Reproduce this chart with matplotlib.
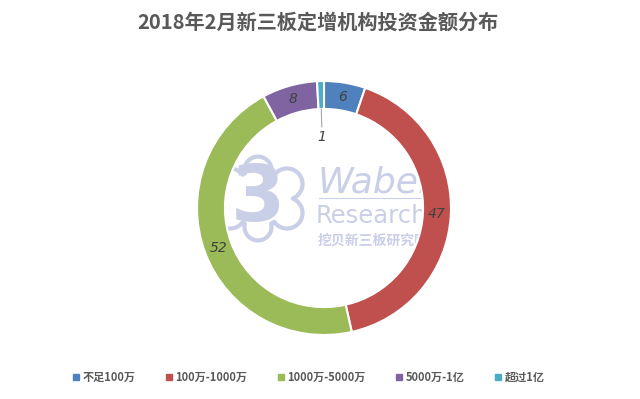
import numpy as np
import matplotlib
matplotlib.use('Agg')
import matplotlib.pyplot as plt
from matplotlib.lines import Line2D

plt.rcParams['font.family'] = ['Noto Sans CJK SC', 'DejaVu Sans']

# podaci
categories = ['不足100万', '100万-1000万', '1000万-5000万', '5000万-1亿', '超过1亿']
values = [6, 47, 52, 8, 1]
colors = ['#4F81BD', '#C0504D', '#9BBB59', '#8064A2', '#4BACC6']
title = '2018年2月新三板定增机构投资金额分布'

fig = plt.figure(figsize=(6.4, 3.99), dpi=100)
fig.patch.set_facecolor('white')

# osa za krofnu, centar oko (324, 208) px
half = 135
ax = fig.add_axes([(324 - half) / 640, (399 - 208 - half) / 399, 2 * half / 640, 2 * half / 399])
R = 127 / half
ring = 0.22 * R

wedges, _ = ax.pie(values, colors=colors, startangle=90, counterclock=False,
                   radius=R, wedgeprops=dict(width=ring, edgecolor='white', linewidth=1.5))
ax.set_xlim(-1, 1)
ax.set_ylim(-1, 1)
ax.set_aspect('equal')
ax.axis('off')

# vodeni žig - logo (obris oblaka) + tekst
wm = '#c9cfe6'
lobes = [(-0.489, 0.281, 0.10), (-0.489, -0.14, 0.10),
         (-0.696, 0.178, 0.115), (-0.696, -0.037, 0.115),
         (-0.274, 0.178, 0.115), (-0.274, -0.037, 0.115),
         (-0.489, 0.07, 0.21)]
gx, gy = np.meshgrid(np.linspace(-0.9, -0.1, 400), np.linspace(-0.35, 0.5, 400))
field = np.max([r - np.hypot(gx - x, gy - y) for x, y, r in lobes], axis=0)
ax.contour(gx, gy, field, levels=[0], colors=wm, linewidths=3, zorder=0)
ax.text(-0.49, 0.07, '3', fontsize=56, color=wm, fontweight='bold', family='DejaVu Sans',
        ha='center', va='center', zorder=0)

ax.text(-0.05, 0.19, 'Wabei', fontsize=26, style='italic', color=wm, family='DejaVu Sans',
        ha='left', va='center', zorder=0)
ax.text(-0.06, -0.06, 'Research', fontsize=17.5, color=wm, family='DejaVu Sans',
        ha='left', va='center', zorder=0)
ax.plot([-0.04, 0.86], [0.075, 0.075], color=wm, lw=0.8, zorder=0)
ax.text(-0.05, -0.24, '挖贝新三板研究院', fontsize=10, color=wm, fontweight='bold',
        ha='left', va='center', zorder=0)

# oznake vrednosti
total = sum(values)
cum = 0
for i, v in enumerate(values):
    mid = 90 - (cum + v / 2) / total * 360
    cum += v
    a = np.deg2rad(mid)
    if v > 1:
        r = R - ring / 2
        ax.text(r * np.cos(a), r * np.sin(a), str(v), ha='center', va='center',
                fontsize=10, style='italic', color='#404040', family='DejaVu Sans')
    else:
        r_in = R - ring
        ax.plot([r_in * np.cos(a), 0.64 * R * np.cos(a)], [r_in * np.sin(a), 0.64 * R * np.sin(a)],
                color='#a6a6a6', lw=0.8)
        ax.text(0.56 * R * np.cos(a), 0.56 * R * np.sin(a), str(v), ha='center', va='center',
                fontsize=10, style='italic', color='#404040', family='DejaVu Sans')

fig.text(0.497, 1 - 22 / 399, title, ha='center', va='center', fontsize=14.5,
         fontweight='bold', color='#595959')

handles = [Line2D([], [], marker='s', linestyle='none', markersize=4.5, color=c) for c in colors]
leg = fig.legend(handles, categories, loc='center', bbox_to_anchor=(0.48, 1 - 377 / 399),
                 ncol=5, frameon=False, fontsize=8, handletextpad=0.1, columnspacing=2.5,
                 handlelength=1.0)
for t in leg.get_texts():
    t.set_color('#595959')
    t.set_fontweight('bold')

fig.savefig('out.png', dpi=100, facecolor='white')
